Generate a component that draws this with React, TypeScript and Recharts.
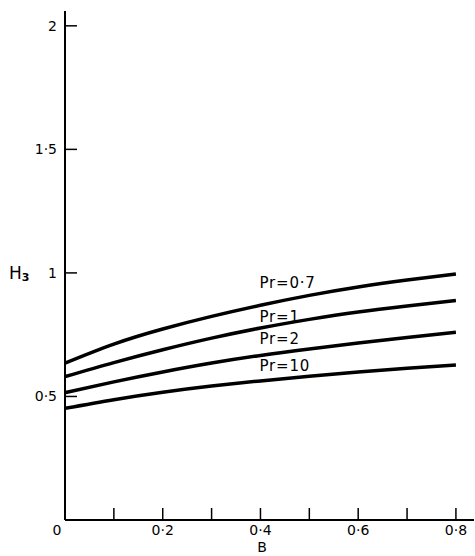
import { LineChart, Line, XAxis, YAxis, ReferenceDot, Label } from 'recharts';

const bValues = [0, 0.1, 0.2, 0.3, 0.4, 0.5, 0.6, 0.7, 0.8];
const pr07 = [0.635, 0.712, 0.773, 0.824, 0.869, 0.909, 0.943, 0.971, 0.996];
const pr1 = [0.58, 0.637, 0.689, 0.736, 0.777, 0.812, 0.842, 0.866, 0.888];
const pr2 = [0.515, 0.559, 0.599, 0.635, 0.666, 0.692, 0.716, 0.739, 0.76];
const pr10 = [0.452, 0.487, 0.517, 0.542, 0.563, 0.582, 0.599, 0.614, 0.627];

const xTicks = [0, 0.1, 0.2, 0.3, 0.4, 0.5, 0.6, 0.7, 0.8];
const xTickLabels = ['0', '', '0·2', '', '0·4', '', '0·6', '', '0·8'];
const yTicks = [0, 0.5, 1, 1.5, 2];
const yTickLabels = ['', '0·5', '1', '1·5', '2'];

const seriesKeys = ['pr07', 'pr1', 'pr2', 'pr10'];
const curveLabels = ['Pr=0·7', 'Pr=1', 'Pr=2', 'Pr=10'];
const curveLabelY = [0.96, 0.822, 0.733, 0.623];

const data = bValues.map((b, i) => ({
  B: b,
  pr07: pr07[i],
  pr1: pr1[i],
  pr2: pr2[i],
  pr10: pr10[i],
}));

const FONT = '"DejaVu Sans", Arial, sans-serif';

const XTick = (props: any) => {
  const { x, y, payload } = props;
  const i = xTicks.indexOf(payload.value);
  const label = i >= 0 ? xTickLabels[i] : '';
  return (
    <g>
      {payload.value !== 0 && (
        <line x1={x} y1={y} x2={x} y2={y - 12} stroke="#000" strokeWidth={1.5} />
      )}
      {label && (
        <text
          x={payload.value === 0 ? x - 8 : x}
          y={y + 10}
          textAnchor="middle"
          dominantBaseline="central"
          fontFamily={FONT}
          fontSize={14}
          fill="#000"
        >
          {label}
        </text>
      )}
    </g>
  );
};

const YTick = (props: any) => {
  const { x, y, payload } = props;
  const i = yTicks.indexOf(payload.value);
  const label = i >= 0 ? yTickLabels[i] : '';
  if (!label) return <g />;
  return (
    <g>
      <line x1={x} y1={y} x2={x + 12} y2={y} stroke="#000" strokeWidth={1.5} />
      <text
        x={x - 8}
        y={y}
        textAnchor="end"
        dominantBaseline="central"
        fontFamily={FONT}
        fontSize={14}
        fill="#000"
      >
        {label}
      </text>
    </g>
  );
};

export default function App() {
  return (
    <div style={{ position: 'absolute', left: 0, top: 0, background: '#fff' }}>
      <LineChart
        width={475}
        height={556}
        data={data}
        margin={{ top: 11, right: 1, left: 0, bottom: 0 }}
      >
        <XAxis
          dataKey="B"
          type="number"
          domain={[0, 0.837]}
          ticks={xTicks}
          interval={0}
          height={36}
          tickSize={0}
          tickMargin={0}
          tickLine={false}
          tick={XTick}
          axisLine={{ stroke: '#000', strokeWidth: 2 }}
          allowDataOverflow
        >
          <Label
            content={(p: any) => (
              <text
                x={p.viewBox.x + 197}
                y={p.viewBox.y + 27}
                textAnchor="middle"
                dominantBaseline="central"
                fontFamily={FONT}
                fontSize={14}
                fill="#000"
              >
                B
              </text>
            )}
          />
        </XAxis>
        <YAxis
          type="number"
          domain={[0, 2.06]}
          ticks={yTicks}
          interval={0}
          width={65}
          tickSize={0}
          tickMargin={0}
          tickLine={false}
          tick={YTick}
          axisLine={{ stroke: '#000', strokeWidth: 2 }}
          allowDataOverflow
        >
          <Label
            content={(p: any) => (
              <text
                x={p.viewBox.x + 9}
                y={p.viewBox.y + p.viewBox.height * (1 - 1 / 2.06)}
                dominantBaseline="central"
                fontFamily={FONT}
                fontSize={17}
                fill="#000"
              >
                H
                <tspan fontSize={11} fontWeight="bold" dy={4}>3</tspan>
              </text>
            )}
          />
        </YAxis>
        {seriesKeys.map((k) => (
          <Line
            key={k}
            type="natural"
            dataKey={k}
            stroke="#000"
            strokeWidth={3.5}
            dot={false}
            activeDot={false}
            isAnimationActive={false}
          />
        ))}
        {curveLabels.map((lbl, i) => (
          <ReferenceDot
            key={lbl}
            x={0.398}
            y={curveLabelY[i]}
            r={0}
            shape={(p: any) => (
              <text
                x={p.cx}
                y={p.cy}
                textAnchor="start"
                dominantBaseline="central"
                fontFamily={FONT}
                fontSize={15}
                letterSpacing={0.8}
                fill="#000"
              >
                {lbl}
              </text>
            )}
          />
        ))}
      </LineChart>
    </div>
  );
}
